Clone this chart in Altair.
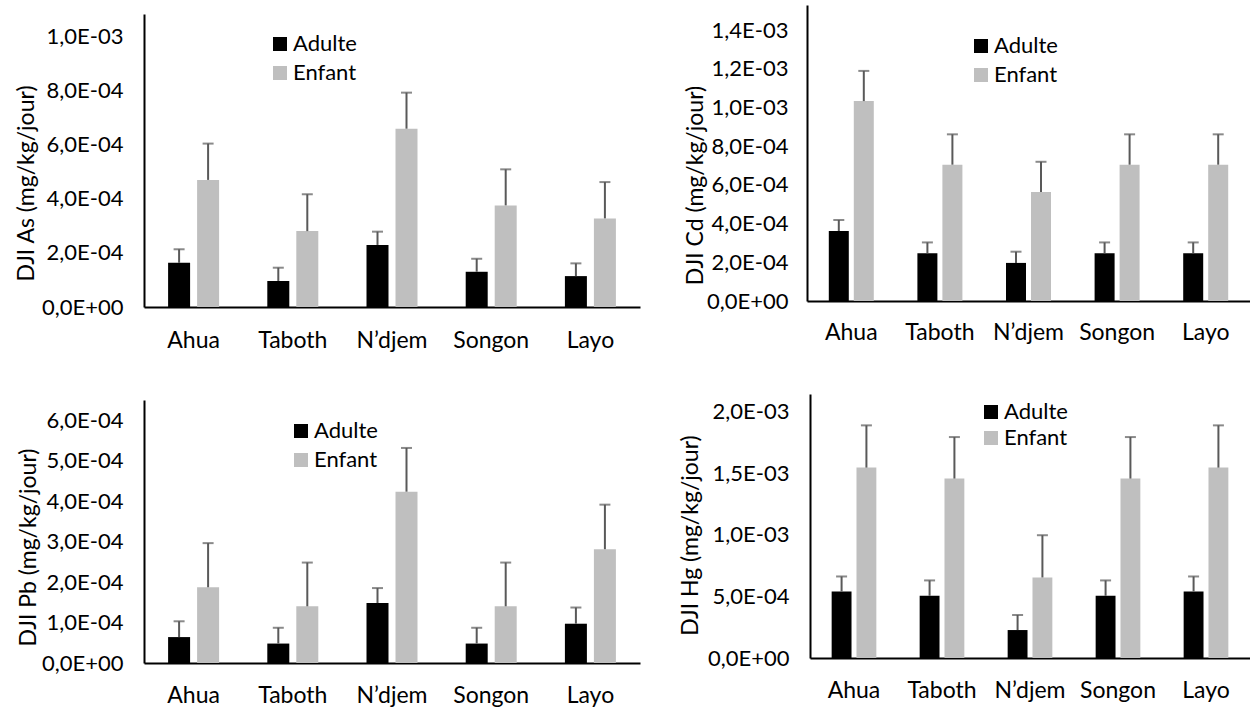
import altair as alt
import pandas as pd

sites = ["Ahua", "Taboth", "N’djem", "Songon", "Layo"]
groups = ["Adulte", "Enfant"]
colors = ["#000000", "#BFBFBF"]

# Arsenic
as_adulte = [1.63e-4, 0.96e-4, 2.29e-4, 1.30e-4, 1.14e-4]
as_adulte_sd = [0.50e-4, 0.49e-4, 0.49e-4, 0.48e-4, 0.47e-4]
as_enfant = [4.69e-4, 2.80e-4, 6.58e-4, 3.75e-4, 3.27e-4]
as_enfant_sd = [1.34e-4, 1.36e-4, 1.33e-4, 1.33e-4, 1.34e-4]
as_ticks = [0, 2e-4, 4e-4, 6e-4, 8e-4, 1e-3]

# Cadmium
cd_adulte = [3.62e-4, 2.47e-4, 1.97e-4, 2.47e-4, 2.47e-4]
cd_adulte_sd = [0.57e-4, 0.56e-4, 0.58e-4, 0.56e-4, 0.56e-4]
cd_enfant = [1.034e-3, 7.05e-4, 5.64e-4, 7.05e-4, 7.05e-4]
cd_enfant_sd = [1.56e-4, 1.57e-4, 1.56e-4, 1.57e-4, 1.57e-4]
cd_ticks = [0, 2e-4, 4e-4, 6e-4, 8e-4, 1e-3, 1.2e-3, 1.4e-3]

# Plomb
pb_adulte = [0.64e-4, 0.48e-4, 1.48e-4, 0.48e-4, 0.97e-4]
pb_adulte_sd = [0.39e-4, 0.39e-4, 0.37e-4, 0.39e-4, 0.40e-4]
pb_enfant = [1.87e-4, 1.40e-4, 4.23e-4, 1.40e-4, 2.81e-4]
pb_enfant_sd = [1.09e-4, 1.08e-4, 1.08e-4, 1.08e-4, 1.10e-4]
pb_ticks = [0, 1e-4, 2e-4, 3e-4, 4e-4, 5e-4, 6e-4]

# Mercure
hg_adulte = [5.40e-4, 5.05e-4, 2.27e-4, 5.05e-4, 5.40e-4]
hg_adulte_sd = [1.22e-4, 1.25e-4, 1.22e-4, 1.25e-4, 1.22e-4]
hg_enfant = [1.546e-3, 1.457e-3, 6.54e-4, 1.457e-3, 1.546e-3]
hg_enfant_sd = [3.43e-4, 3.37e-4, 3.43e-4, 3.37e-4, 3.43e-4]
hg_ticks = [0, 5e-4, 1e-3, 1.5e-3, 2e-3]

FONT = "Lato"
YFS = 22
XFS = 23
LFS = 22
TFS = 23
EXP = "floor(log(datum.value)/LN10 + 1e-9)"
LABEL_EXPR = (
    "datum.value == 0 ? '0,0E+00' : "
    "replace(format(datum.value / pow(10, " + EXP + "), '.1f'), '.', ',') + 'E' + "
    "(" + EXP + " < 0 ? '-' : '+') + (abs(" + EXP + ") < 10 ? '0' : '') + abs(" + EXP + ")"
)


def panel_df(adulte, adulte_sd, enfant, enfant_sd):
    rows = []
    for i, s in enumerate(sites):
        rows.append({"site": s, "groupe": "Adulte", "val": adulte[i], "top": adulte[i] + adulte_sd[i]})
        rows.append({"site": s, "groupe": "Enfant", "val": enfant[i], "top": enfant[i] + enfant_sd[i]})
    return pd.DataFrame(rows)


def panel(df, title, ticks, width, height, ymax, yrange, xlabpad, ylabpad,
          title_x, title_y, leg_x, leg_y, leg_rowpad, pin, pout,
          xrange=None, yoffset=0):
    scale_kw = dict(domain=[0, ymax], nice=False, zero=True)
    if yrange is not None:
        scale_kw["range"] = yrange
    xscale_kw = dict(paddingInner=0, paddingOuter=0)
    if xrange is not None:
        xscale_kw["range"] = xrange
    yaxis = alt.Axis(
        values=ticks, labelExpr=LABEL_EXPR, grid=False, ticks=False,
        domainColor="black", domainWidth=2, labelFontSize=YFS, labelColor="black",
        labelFont=FONT, labelPadding=ylabpad, title=title, titleFontSize=TFS,
        titleFont=FONT, titleFontWeight="normal", titleColor="black",
        titleX=title_x, titleY=title_y, titleAngle=270, titleAlign="center",
        titleBaseline="middle", offset=yoffset,
    )
    x = alt.X("site:N", sort=sites,
              scale=alt.Scale(**xscale_kw),
              axis=alt.Axis(title=None, labelAngle=0, ticks=False, domainColor="black",
                            domainWidth=2, labelFontSize=XFS, labelFont=FONT,
                            labelColor="black", labelPadding=xlabpad, grid=False))
    xo = alt.XOffset("groupe:N", sort=groups,
                     scale=alt.Scale(paddingInner=pin, paddingOuter=pout))
    ysc = alt.Scale(**scale_kw)
    bars = alt.Chart(df).mark_bar().encode(
        x=x, xOffset=xo,
        y=alt.Y("val:Q", scale=ysc, axis=yaxis),
        color=alt.Color("groupe:N", sort=groups,
                        scale=alt.Scale(domain=groups, range=colors),
                        legend=alt.Legend(title=None, orient="none", legendX=leg_x,
                                          legendY=leg_y, symbolType="square",
                                          symbolSize=196, symbolStrokeWidth=0,
                                          labelFontSize=LFS, labelFont=FONT,
                                          labelColor="black", labelOffset=2,
                                          rowPadding=leg_rowpad, padding=0)),
    )
    rule = alt.Chart(df).mark_rule(color="#595959", strokeWidth=2).encode(
        x=x, xOffset=xo,
        y=alt.Y("val:Q", scale=ysc, axis=yaxis),
        y2="top:Q",
    )
    cap = alt.Chart(df).mark_tick(color="#595959", thickness=2, size=11,
                                  orient="horizontal").encode(
        x=x, xOffset=xo,
        y=alt.Y("top:Q", scale=ysc, axis=yaxis),
    )
    return alt.layer(bars, rule, cap).properties(width=width, height=height)


p1 = panel(panel_df(as_adulte, as_adulte_sd, as_enfant, as_enfant_sd),
           "DJI As (mg/kg/jour)", as_ticks, 496, 302, 1.0812e-3, [302, 9],
           22, 21, -118, 178, 125, 28, 7, 0.2414, 0.831)
p2 = panel(panel_df(cd_adulte, cd_adulte_sd, cd_enfant, cd_enfant_sd),
           "DJI Cd (mg/kg/jour)", cd_ticks, 443, 296, 1.5309e-3, None,
           20, 19, -112, 180, 163, 30, 7, 0.2, 0.872)
p3 = panel(panel_df(pb_adulte, pb_adulte_sd, pb_enfant, pb_enfant_sd),
           "DJI Pb (mg/kg/jour)", pb_ticks, 496, 269, 6.494e-4, [269, 6],
           21, 21, -116, 153, 146, 26, 7, 0.2414, 0.831)
p4 = panel(panel_df(hg_adulte, hg_adulte_sd, hg_enfant, hg_enfant_sd),
           "DJI Hg (mg/kg/jour)", hg_ticks, 443, 264, 2.1437e-3, None,
           21, 21, -120, 141, 173, 7, 4, 0.2, 0.872,
           xrange=[3, 443], yoffset=-3)

chart = alt.concat(
    p1, p2, p3, p4, columns=2, spacing={"row": 87, "column": 167}, bounds="flush"
).resolve_scale(
    color="independent", x="independent", y="independent", xOffset="independent"
).resolve_axis(x="independent", y="independent").resolve_legend(
    color="independent"
).properties(
    padding={"left": 15, "top": 5, "right": 0, "bottom": 0},
    background="white",
).configure(font=FONT).configure_view(stroke="transparent", strokeWidth=0)

chart.save("out.html", embed_options={"renderer": "svg", "actions": False})
